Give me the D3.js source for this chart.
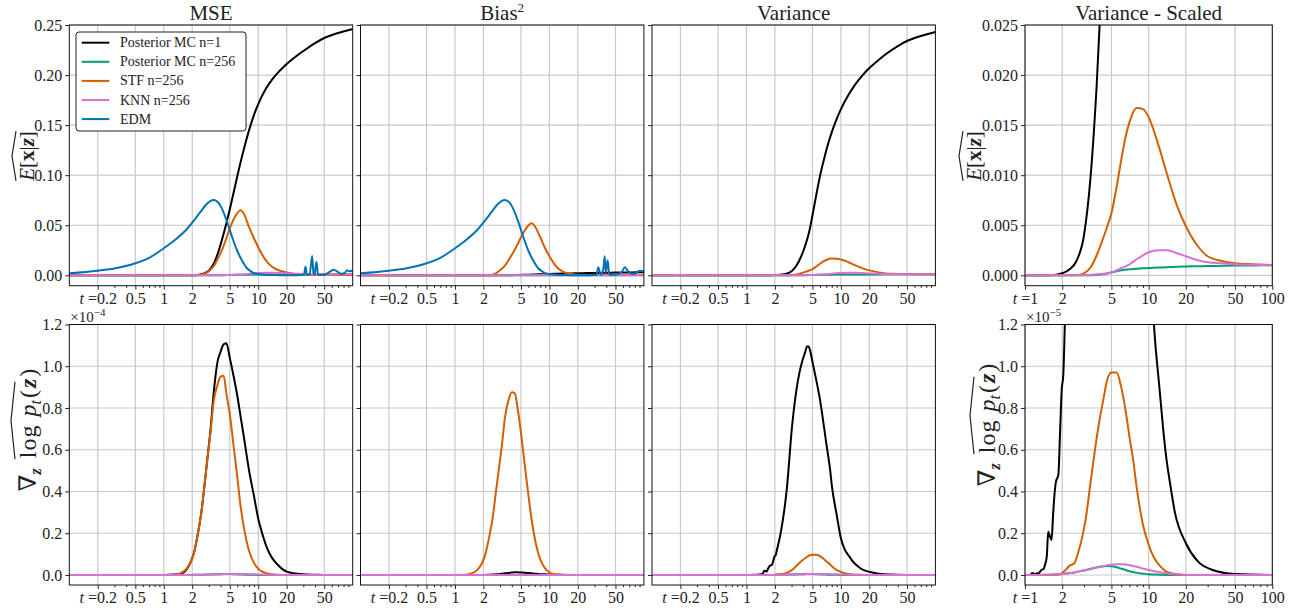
<!DOCTYPE html>
<html>
<head>
<meta charset="utf-8">
<script src="https://cdn.jsdelivr.net/npm/d3@7"></script>
<style>
body { margin: 0; background: #fff; }
svg text { font-family: "Liberation Serif", "DejaVu Serif", serif; fill: #222; }
</style>
</head>
<body>
<svg id="chart" width="1295" height="611"></svg>
<script>
// ---- top row: E[x|z] estimates, shared t grid ----
const T = [0.1, 0.2, 0.3, 0.5, 0.7, 1, 1.3, 1.6, 2, 2.3, 2.6, 3, 3.4, 3.8, 4.2, 4.6, 5, 5.5, 6, 6.5, 7, 8, 9, 10, 12, 14, 17, 20, 25, 30, 40, 50, 70, 100];

const mc1Mse = [0, 0, 0, 0, 0, 0, 0, 0, 0.0001, 0.0004, 0.0015, 0.0045, 0.012, 0.024, 0.038, 0.052, 0.066, 0.083, 0.099, 0.113, 0.125, 0.145, 0.16, 0.171, 0.186, 0.1955, 0.2045, 0.211, 0.2185, 0.224, 0.232, 0.237, 0.242, 0.246];
const mc1Bias = [0, 0, 0, 0, 0, 0, 0, 0, 0, 0, 0, 0, 0.0001, 0.0001, 0.0002, 0.0003, 0.0004, 0.0005, 0.0006, 0.0007, 0.0008, 0.001, 0.0011, 0.0013, 0.0015, 0.0017, 0.0019, 0.002, 0.0022, 0.0024, 0.0026, 0.0027, 0.0029, 0.003];
const mc1Var = [0, 0, 0, 0, 0, 0, 0, 0, 0.0002, 0.0006, 0.0014, 0.004, 0.010, 0.019, 0.03, 0.043, 0.06, 0.081, 0.099, 0.113, 0.125, 0.143, 0.156, 0.166, 0.18, 0.19, 0.2, 0.207, 0.215, 0.221, 0.229, 0.234, 0.239, 0.243];

const stfMse = [0, 0, 0, 0, 0, 0, 0, 0, 0, 0.0002, 0.001, 0.004, 0.0095, 0.018, 0.027, 0.037, 0.047, 0.056, 0.062, 0.065, 0.062, 0.048, 0.037, 0.028, 0.015, 0.0085, 0.0045, 0.0027, 0.0014, 0.0009, 0.0006, 0.0005, 0.0004, 0.0004];
const stfBias = [0, 0, 0, 0, 0, 0, 0, 0, 0, 0, 0.001, 0.005, 0.010, 0.017, 0.024, 0.031, 0.038, 0.045, 0.050, 0.052, 0.049, 0.038, 0.027, 0.019, 0.008, 0.0035, 0.0012, 0.0005, 0.0003, 0.0002, 0.0002, 0.0002, 0.0002, 0.0002];
const stfVar = [0, 0, 0, 0, 0, 0, 0, 0, 0, 0, 0, 0.0002, 0.0008, 0.002, 0.0034, 0.0048, 0.0062, 0.0088, 0.0115, 0.0138, 0.0153, 0.0167, 0.0166, 0.0158, 0.013, 0.0102, 0.0069, 0.0049, 0.0029, 0.0019, 0.0014, 0.0012, 0.0011, 0.00103];

const knnVar = [0, 0, 0, 0, 0, 0, 0, 0, 0, 0, 0, 0, 0.00003, 0.0001, 0.00015, 0.0002, 0.0003, 0.0005, 0.0007, 0.0009, 0.0011, 0.0016, 0.002, 0.0023, 0.0025, 0.0025, 0.0022, 0.0019, 0.0015, 0.0013, 0.0012, 0.0011, 0.00105, 0.001];
const mc256Var = [0, 0, 0, 0, 0, 0, 0, 0, 0, 0, 0, 0, 0, 0.00005, 0.0001, 0.00018, 0.00028, 0.0004, 0.0005, 0.00055, 0.0006, 0.00065, 0.0007, 0.00072, 0.00077, 0.0008, 0.00085, 0.00088, 0.0009, 0.00092, 0.00095, 0.00097, 0.00099, 0.001];

// EDM has its own grid because of the late spikes
const edmT = [0.1, 0.2, 0.3, 0.5, 0.7, 1, 1.3, 1.75, 2.1, 2.43, 2.8, 3.37, 3.9, 4.66, 5.3, 5.96, 6.8, 7.6, 8.5, 9.6, 12, 15, 20, 25, 29, 30.5, 31.6, 32.8, 35, 37.2, 38.5, 39.5, 41.3, 43, 46, 52, 58, 63, 68, 75, 82, 87, 92, 100];
const edmMse = [0.002, 0.0046, 0.0068, 0.012, 0.0175, 0.027, 0.035, 0.046, 0.055, 0.063, 0.0705, 0.0752, 0.071, 0.054, 0.038, 0.025, 0.014, 0.007, 0.0035, 0.0015, 0.0005, 0.0002, 0.0001, 0.0001, 0.0002, 0.0003, 0.0086, 0.0003, 0.0008, 0.0193, 0.002, 0.0005, 0.0136, 0.0005, 0.0004, 0.001, 0.004, 0.0055, 0.004, 0.0015, 0.002, 0.005, 0.004, 0.0045];
const edmBias = [0.002, 0.0046, 0.0068, 0.012, 0.0175, 0.027, 0.035, 0.046, 0.055, 0.063, 0.0705, 0.0752, 0.071, 0.054, 0.038, 0.025, 0.014, 0.007, 0.0035, 0.0015, 0.0005, 0.0002, 0.0001, 0.0001, 0.0002, 0.0002, 0.0004, 0.008, 0.0005, 0.006, 0.019, 0.003, 0.015, 0.0008, 0.0005, 0.001, 0.003, 0.008, 0.004, 0.0015, 0.002, 0.004, 0.0046, 0.004];

const zeroT = [0.1, 100];
const zeroV = [0, 0];

// ---- bottom row: score estimates, values in units of 1e-4 ----
const B = [0.1, 1, 1.3, 1.5, 1.7, 1.9, 2.1, 2.3, 2.5, 2.7, 2.9, 3.1, 3.4, 3.7, 4, 4.3, 4.6, 5, 5.5, 6, 6.5, 7, 7.5, 8, 9, 10, 11, 12.5, 14, 16, 18, 20, 25, 30, 40, 50, 100];

const gMseMc1 = [0, 0, 0.002, 0.006, 0.02, 0.056, 0.11, 0.2, 0.3, 0.43, 0.56, 0.68, 0.886, 1.02, 1.07, 1.105, 1.11, 1.04, 0.95, 0.86, 0.76, 0.67, 0.58, 0.5, 0.38, 0.27, 0.2, 0.125, 0.082, 0.05, 0.028, 0.016, 0.007, 0.003, 0.001, 0, 0];
const gMseStf = [0, 0, 0.001, 0.008, 0.025, 0.056, 0.11, 0.2, 0.3, 0.43, 0.56, 0.67, 0.84, 0.91, 0.95, 0.955, 0.87, 0.77, 0.614, 0.47, 0.33, 0.235, 0.165, 0.115, 0.058, 0.03, 0.016, 0.007, 0.003, 0.001, 0, 0, 0, 0, 0, 0, 0];
const gBiasStf = [0, 0, 0.001, 0.007, 0.022, 0.05, 0.1, 0.18, 0.27, 0.39, 0.5, 0.6, 0.76, 0.84, 0.875, 0.87, 0.8, 0.68, 0.52, 0.38, 0.26, 0.175, 0.115, 0.075, 0.032, 0.013, 0.005, 0.002, 0.001, 0, 0, 0, 0, 0, 0, 0, 0];
const gBiasMc1 = [0, 0, 0, 0, 0, 0, 0.0005, 0.001, 0.002, 0.003, 0.004, 0.006, 0.008, 0.01, 0.012, 0.013, 0.013, 0.012, 0.011, 0.009, 0.008, 0.006, 0.005, 0.004, 0.003, 0.002, 0.0015, 0.001, 0.0005, 0.0002, 0, 0, 0, 0, 0, 0, 0];
const gVarStf = [0, 0, 0, 0, 0, 0.0002, 0.002, 0.0045, 0.0055, 0.011, 0.018, 0.027, 0.045, 0.061, 0.074, 0.084, 0.093, 0.097, 0.097, 0.09, 0.079, 0.066, 0.055, 0.042, 0.024, 0.0145, 0.0085, 0.004, 0.0015, 0.0006, 0.0002, 0, 0, 0, 0, 0, 0];
const gVarKnn = [0, 0, 0, 0.0001, 0.0002, 0.0004, 0.0006, 0.0009, 0.0012, 0.0016, 0.002, 0.0023, 0.0028, 0.0033, 0.0038, 0.0042, 0.0046, 0.0049, 0.0051, 0.0051, 0.005, 0.0047, 0.0043, 0.0039, 0.0031, 0.0024, 0.0018, 0.0012, 0.0008, 0.0004, 0.0002, 0.0001, 0, 0, 0, 0, 0];
const gVarMc256 = [0, 0, 0, 0.0001, 0.0002, 0.0004, 0.0006, 0.0009, 0.0012, 0.0016, 0.002, 0.0024, 0.003, 0.0035, 0.0039, 0.0042, 0.0043, 0.0042, 0.0037, 0.003, 0.0024, 0.0018, 0.0014, 0.001, 0.0006, 0.0003, 0.0002, 0.0001, 0, 0, 0, 0, 0, 0, 0, 0, 0];

// noisy MC n=1 variance, finer grid
const blackT = [0.1, 1, 1.1, 1.15, 1.2, 1.25, 1.28, 1.32, 1.36, 1.42, 1.45, 1.5, 1.54, 1.6, 1.64, 1.69, 1.74, 1.78, 1.86, 1.92, 1.98, 2.04, 2.1, 2.3, 2.67, 3.05, 3.5, 3.87, 4.2, 4.37, 4.55, 4.75, 5, 5.5, 6, 7, 7.7, 8, 9, 10, 10.9, 12.3, 13.1, 13.9, 14.8, 16.3, 20, 25, 33, 50, 100];
const gVarMc1 = [0, 0, 0, 0.001, 0.0003, 0.0008, 0.0006, 0.0015, 0.0024, 0.003, 0.0048, 0.0088, 0.0207, 0.018, 0.0168, 0.0295, 0.04, 0.0447, 0.0479, 0.0678, 0.0886, 0.0957, 0.12, 0.2, 0.41, 0.72, 0.93, 1.02, 1.07, 1.095, 1.095, 1.07, 1.02, 0.93, 0.84, 0.63, 0.5, 0.43, 0.29, 0.175, 0.125, 0.088, 0.07, 0.056, 0.045, 0.03, 0.0152, 0.0065, 0.0024, 0.0005, 0];

// ---- labels / ticks ----
const titles = ["MSE", "Bias", "Variance", "Variance - Scaled"];
const tTicks = [0.2, 0.5, 1, 2, 5, 10, 20, 50];
const tTicksScaled = [1, 2, 5, 10, 20, 50, 100];
const yTicksTop = [0, 0.05, 0.1, 0.15, 0.2, 0.25];
const yTicksTopScaled = [0, 0.005, 0.01, 0.015, 0.02, 0.025];
const yTicksBottom = [0, 0.2, 0.4, 0.6, 0.8, 1.0, 1.2];
const yTicksBottomScaled = [0, 0.02, 0.04, 0.06, 0.08, 0.1, 0.12];
const legendNames = ["Posterior MC n=1", "Posterior MC n=256", "STF n=256", "KNN n=256", "EDM"];
const legendKeys = ["mc1", "mc256", "stf", "knn", "edm"];

const colors = { mc1: "#000000", mc256: "#029e73", stf: "#d55e00", knn: "#da70d6", edm: "#0173b2" };

const colX = [[69.3, 352.7], [360.5, 643.9], [652, 935.4], [1025, 1272.3]];
const rowY = [[25, 285.7], [324.5, 585]];

const S = (t, v, c) => ({ t, v, c });
const topSeries = [
    [S(T, mc1Mse, "mc1"), S(T, mc256Var, "mc256"), S(T, stfMse, "stf"), S(T, knnVar, "knn"), S(edmT, edmMse, "edm")],
    [S(T, mc1Bias, "mc1"), S(zeroT, zeroV, "mc256"), S(T, stfBias, "stf"), S(zeroT, zeroV, "knn"), S(edmT, edmBias, "edm")],
    [S(T, mc1Var, "mc1"), S(T, mc256Var, "mc256"), S(T, stfVar, "stf"), S(T, knnVar, "knn")],
    [S(T, mc1Var, "mc1"), S(T, mc256Var, "mc256"), S(T, stfVar, "stf"), S(T, knnVar, "knn")]
];
const bottomSeries = [
    [S(B, gMseMc1, "mc1"), S(B, gVarMc256, "mc256"), S(B, gMseStf, "stf"), S(B, gVarKnn, "knn")],
    [S(B, gBiasMc1, "mc1"), S(zeroT, zeroV, "mc256"), S(B, gBiasStf, "stf"), S(zeroT, zeroV, "knn")],
    [S(blackT, gVarMc1, "mc1"), S(B, gVarMc256, "mc256"), S(B, gVarStf, "stf"), S(B, gVarKnn, "knn")],
    [S(blackT, gVarMc1, "mc1"), S(B, gVarMc256, "mc256"), S(B, gVarStf, "stf"), S(B, gVarKnn, "knn")]
];

const svg = d3.select("#chart");
const defs = svg.append("defs");

function minorTicks(dom, majors) {
    const out = [];
    for (let e = -1; e <= 2; e++) {
        for (let m = 1; m <= 9; m++) {
            const v = +(m * Math.pow(10, e)).toPrecision(3);
            if (v > dom[0] && v < dom[1] && !majors.includes(v)) out.push(v);
        }
    }
    return out;
}

function drawPanel(r, c) {
    const [x0, x1] = colX[c];
    const [y0, y1] = rowY[r];
    const scaled = c === 3;
    const tDom = scaled ? [1, 100] : [0.1, 100];
    const xT = scaled ? tTicksScaled : tTicks;
    let yDom, yT, fmt;
    if (r === 0) {
        yDom = scaled ? [-0.00104, 0.025] : [-0.0104, 0.25];
        yT = scaled ? yTicksTopScaled : yTicksTop;
        fmt = scaled ? d3.format(".3f") : d3.format(".2f");
    } else {
        yDom = scaled ? [-0.0048, 0.12] : [-0.048, 1.2];
        yT = scaled ? yTicksBottomScaled : yTicksBottom;
        fmt = scaled ? (d => (d * 10).toFixed(1)) : d3.format(".1f");
    }

    const x = d3.scaleLog().domain(tDom).range([x0, x1]);
    const y = d3.scaleLinear().domain(yDom).range([y1, y0]);
    const g = svg.append("g");

    // grid
    g.selectAll(".vg").data(xT).join("line")
        .attr("x1", d => x(d)).attr("x2", d => x(d))
        .attr("y1", y0).attr("y2", y1)
        .attr("stroke", "#c9c9c9").attr("stroke-width", 1.2);
    g.selectAll(".hg").data(yT).join("line")
        .attr("x1", x0).attr("x2", x1)
        .attr("y1", d => y(d)).attr("y2", d => y(d))
        .attr("stroke", "#c9c9c9").attr("stroke-width", 1.2);

    // lines
    const id = `clip-${r}-${c}`;
    defs.append("clipPath").attr("id", id).append("rect")
        .attr("x", x0).attr("y", y0).attr("width", x1 - x0).attr("height", y1 - y0);
    const line = d3.line().x(d => x(d[0])).y(d => y(d[1])).curve(d3.curveMonotoneX);
    const series = r === 0 ? topSeries[c] : bottomSeries[c];
    g.append("g").attr("clip-path", `url(#${id})`)
        .selectAll("path").data(series).join("path")
        .attr("d", s => line(s.t.map((t, k) => [t, s.v[k]]).filter(p => p[0] >= tDom[0] * 0.8)))
        .attr("fill", "none")
        .attr("stroke", s => colors[s.c])
        .attr("stroke-width", 2)
        .attr("stroke-linejoin", "round");

    // frame
    g.append("rect").attr("x", x0).attr("y", y0).attr("width", x1 - x0).attr("height", y1 - y0)
        .attr("fill", "none").attr("stroke", "#111").attr("stroke-width", 1);

    // x axis
    const ax = g.append("g").attr("transform", `translate(0,${y1})`)
        .call(d3.axisBottom(x).tickValues(xT).tickSize(4).tickPadding(3).tickFormat(d => String(d)));
    ax.select(".domain").remove();
    ax.attr("font-family", null).attr("font-size", null).attr("color", "#222");
    ax.selectAll("text").style("font-size", "16px");
    ax.selectAll(".tick text").filter((d, k) => k === 0).each(function (d) {
        const t = d3.select(this).text(null);
        t.append("tspan").style("font-style", "italic").text("t");
        t.append("tspan").text(" =" + d);
    });
    const axm = g.append("g").attr("transform", `translate(0,${y1})`)
        .call(d3.axisBottom(x).tickValues(minorTicks(tDom, xT)).tickSize(2.2).tickFormat(""));
    axm.select(".domain").remove();
    axm.attr("color", "#222");

    // y axis
    const showY = c === 0 || c === 3;
    const ay = g.append("g").attr("transform", `translate(${x0},0)`)
        .call(d3.axisLeft(y).tickValues(yT).tickSize(4).tickPadding(3).tickFormat(showY ? fmt : ""));
    ay.select(".domain").remove();
    ay.attr("font-family", null).attr("font-size", null).attr("color", "#222");
    ay.selectAll("text").style("font-size", "16px");

    // offset text on bottom row
    if (r === 1 && showY) {
        const ot = g.append("text").attr("x", x0 + 1).attr("y", y0 - 3).style("font-size", "15px");
        ot.append("tspan").text("×10");
        ot.append("tspan").attr("dy", -6).style("font-size", "11px").text(scaled ? "−5" : "−4");
    }

    // titles
    if (r === 0) {
        const tt = g.append("text").attr("x", (x0 + x1) / 2).attr("y", 20)
            .attr("text-anchor", "middle").style("font-size", "21px").text(titles[c]);
        if (c === 1) tt.append("tspan").attr("dy", -8).style("font-size", "13px").text("2");
    }
}

for (let r = 0; r < 2; r++) for (let c = 0; c < 4; c++) drawPanel(r, c);

// y-axis labels
function hat(g, xa, xb, top) {
    const mid = (xa + xb) / 2;
    g.append("path")
        .attr("d", `M${xa},${top + 4} L${mid},${top} L${xb},${top + 4}`)
        .attr("fill", "none").attr("stroke", "#222").attr("stroke-width", 1.2);
}

function eLabel(cx, cy) {
    const g = svg.append("g").attr("transform", `translate(${cx},${cy}) rotate(-90)`);
    const t = g.append("text").attr("text-anchor", "middle").style("font-size", "21px");
    t.append("tspan").style("font-style", "italic").text("E");
    t.append("tspan").text("[");
    t.append("tspan").style("font-weight", "bold").text("x");
    t.append("tspan").text("|");
    t.append("tspan").style("font-weight", "bold").style("font-style", "italic").text("z");
    t.append("tspan").text("]");
    const w = t.node().getComputedTextLength();
    hat(g, -w / 2, w / 2, -22);
}

function gradLabel(cx, cy) {
    const g = svg.append("g").attr("transform", `translate(${cx},${cy}) rotate(-90)`);
    const a = g.append("text").style("font-size", "24px");
    a.append("tspan").text("∇");
    a.append("tspan").attr("dy", 5).style("font-size", "16px").style("font-weight", "bold").style("font-style", "italic").text("z");
    const b = g.append("text").style("font-size", "24px");
    b.append("tspan").style("letter-spacing", "1px").text("log");
    b.append("tspan").attr("dx", 8).style("font-style", "italic").text("p");
    b.append("tspan").attr("dy", 5).style("font-size", "16px").style("font-style", "italic").text("t");
    b.append("tspan").attr("dy", -5).attr("dx", 2).text("(");
    b.append("tspan").attr("dx", 2).style("font-weight", "bold").style("font-style", "italic").text("z");
    b.append("tspan").attr("dx", 2).text(")");
    const wa = a.node().getComputedTextLength();
    const wb = b.node().getComputedTextLength();
    const gap = 10;
    const total = wa + gap + wb;
    a.attr("x", -total / 2);
    const bx = -total / 2 + wa + gap;
    b.attr("x", bx);
    hat(g, bx - 1, bx + wb + 1, -25);
}

eLabel(34, 156);
eLabel(981, 156);
gradLabel(36, 437);
gradLabel(995, 432);

// legend
const lg = svg.append("g");
lg.append("rect").attr("x", 76).attr("y", 32).attr("width", 170).attr("height", 99).attr("rx", 3)
    .attr("fill", "#fff").attr("stroke", "#222").attr("stroke-width", 1);
legendNames.forEach((name, k) => {
    const yy = 42.7 + k * 19.1;
    lg.append("line").attr("x1", 81.7).attr("x2", 109.3).attr("y1", yy).attr("y2", yy)
        .attr("stroke", colors[legendKeys[k]]).attr("stroke-width", 2);
    lg.append("text").attr("x", 120).attr("y", yy + 4.5).style("font-size", "14px").text(name);
});
</script>
</body>
</html>
